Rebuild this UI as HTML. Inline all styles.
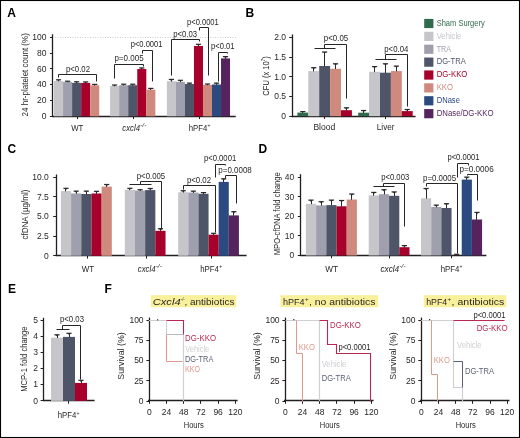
<!DOCTYPE html><html><head><meta charset="utf-8"><title>Figure</title>
<style>html,body{margin:0;padding:0;background:#fff;}svg{display:block;will-change:transform;}</style></head><body>
<svg width="520" height="438" viewBox="0 0 520 438" font-family="'Liberation Sans', sans-serif" fill="#231f20">
<rect x="0" y="0" width="520" height="438" fill="#ffffff"/>
<text x="7.3" y="17.3" font-size="12" fill="#000" font-weight="bold">A</text>
<text x="245.6" y="17.3" font-size="12" fill="#000" font-weight="bold">B</text>
<text x="7.5" y="153.4" font-size="12" fill="#000" font-weight="bold">C</text>
<text x="258.6" y="153.3" font-size="12" fill="#000" font-weight="bold">D</text>
<text x="8" y="293.1" font-size="12" fill="#000" font-weight="bold">E</text>
<text x="104.6" y="293.1" font-size="12" fill="#000" font-weight="bold">F</text>
<line x1="55" y1="37.5" x2="236" y2="37.5" stroke="#b8b8b8" stroke-width="0.8" stroke-dasharray="0.9 1.6"/>
<line x1="52.5" y1="34.3" x2="52.5" y2="117.1" stroke="#231f20" stroke-width="1.3" />
<line x1="49.9" y1="116.5" x2="52.9" y2="116.5" stroke="#231f20" stroke-width="1" />
<text x="46.4" y="119" font-size="8.5" text-anchor="end">0</text>
<line x1="49.9" y1="100.5" x2="52.9" y2="100.5" stroke="#231f20" stroke-width="1" />
<text x="46.4" y="103.2" font-size="8.5" text-anchor="end">20</text>
<line x1="49.9" y1="84.5" x2="52.9" y2="84.5" stroke="#231f20" stroke-width="1" />
<text x="46.4" y="87.4" font-size="8.5" text-anchor="end">40</text>
<line x1="49.9" y1="68.5" x2="52.9" y2="68.5" stroke="#231f20" stroke-width="1" />
<text x="46.4" y="71.6" font-size="8.5" text-anchor="end">60</text>
<line x1="49.9" y1="53.5" x2="52.9" y2="53.5" stroke="#231f20" stroke-width="1" />
<text x="46.4" y="55.8" font-size="8.5" text-anchor="end">80</text>
<line x1="49.9" y1="37.5" x2="52.9" y2="37.5" stroke="#231f20" stroke-width="1" />
<text x="46.4" y="40" font-size="8.5" text-anchor="end">100</text>
<line x1="52.4" y1="116.5" x2="235.7" y2="116.5" stroke="#231f20" stroke-width="1.3" />
<line x1="77.5" y1="116.3" x2="77.5" y2="119.1" stroke="#231f20" stroke-width="1" />
<line x1="133.5" y1="116.3" x2="133.5" y2="119.1" stroke="#231f20" stroke-width="1" />
<line x1="199.5" y1="116.3" x2="199.5" y2="119.1" stroke="#231f20" stroke-width="1" />
<rect x="54" y="81" width="9.05" height="35.3" fill="#c6c5ca"/>
<rect x="63.05" y="81.9" width="9.05" height="34.4" fill="#a09fad"/>
<rect x="72.1" y="82.9" width="9.05" height="33.4" fill="#4e5568"/>
<rect x="81.15" y="82.9" width="9.05" height="33.4" fill="#a6002b"/>
<rect x="90.2" y="85.3" width="9.05" height="31" fill="#cf8a7d"/>
<line x1="58.5" y1="81.3" x2="58.5" y2="79.8" stroke="#2a2a2a" stroke-width="1" />
<line x1="55.92" y1="79.8" x2="61.12" y2="79.8" stroke="#2a2a2a" stroke-width="1.2" />
<path d="M56.92 79.8L60.12 79.8L58.52 81Z" fill="#2a2a2a"/>
<line x1="67.5" y1="82.2" x2="67.5" y2="81.2" stroke="#2a2a2a" stroke-width="1" />
<line x1="64.98" y1="81.2" x2="70.17" y2="81.2" stroke="#2a2a2a" stroke-width="1.2" />
<path d="M65.98 81.2L69.17 81.2L67.58 81.9Z" fill="#2a2a2a"/>
<line x1="76.5" y1="83.2" x2="76.5" y2="81.8" stroke="#2a2a2a" stroke-width="1" />
<line x1="74.03" y1="81.8" x2="79.22" y2="81.8" stroke="#2a2a2a" stroke-width="1.2" />
<path d="M75.03 81.8L78.22 81.8L76.62 82.9Z" fill="#2a2a2a"/>
<line x1="85.5" y1="83.2" x2="85.5" y2="81.9" stroke="#2a2a2a" stroke-width="1" />
<line x1="83.08" y1="81.9" x2="88.28" y2="81.9" stroke="#2a2a2a" stroke-width="1.2" />
<path d="M84.08 81.9L87.28 81.9L85.68 82.9Z" fill="#2a2a2a"/>
<line x1="94.5" y1="85.6" x2="94.5" y2="84.4" stroke="#2a2a2a" stroke-width="1" />
<line x1="92.13" y1="84.4" x2="97.33" y2="84.4" stroke="#2a2a2a" stroke-width="1.2" />
<path d="M93.13 84.4L96.33 84.4L94.73 85.3Z" fill="#2a2a2a"/>
<rect x="110.1" y="86" width="9.05" height="30.3" fill="#c6c5ca"/>
<rect x="119.15" y="85.2" width="9.05" height="31.1" fill="#a09fad"/>
<rect x="128.2" y="85.2" width="9.05" height="31.1" fill="#4e5568"/>
<rect x="137.25" y="69" width="9.05" height="47.3" fill="#a6002b"/>
<rect x="146.3" y="89.6" width="9.05" height="26.7" fill="#cf8a7d"/>
<line x1="114.5" y1="86.3" x2="114.5" y2="85" stroke="#2a2a2a" stroke-width="1" />
<line x1="112.03" y1="85" x2="117.22" y2="85" stroke="#2a2a2a" stroke-width="1.2" />
<path d="M113.03 85L116.22 85L114.62 86Z" fill="#2a2a2a"/>
<line x1="123.5" y1="85.5" x2="123.5" y2="84.2" stroke="#2a2a2a" stroke-width="1" />
<line x1="121.08" y1="84.2" x2="126.27" y2="84.2" stroke="#2a2a2a" stroke-width="1.2" />
<path d="M122.08 84.2L125.27 84.2L123.67 85.2Z" fill="#2a2a2a"/>
<line x1="132.5" y1="85.5" x2="132.5" y2="84.2" stroke="#2a2a2a" stroke-width="1" />
<line x1="130.12" y1="84.2" x2="135.32" y2="84.2" stroke="#2a2a2a" stroke-width="1.2" />
<path d="M131.12 84.2L134.32 84.2L132.72 85.2Z" fill="#2a2a2a"/>
<line x1="141.5" y1="69.3" x2="141.5" y2="67.9" stroke="#2a2a2a" stroke-width="1" />
<line x1="139.18" y1="67.9" x2="144.38" y2="67.9" stroke="#2a2a2a" stroke-width="1.2" />
<path d="M140.18 67.9L143.38 67.9L141.78 69Z" fill="#2a2a2a"/>
<line x1="150.5" y1="89.9" x2="150.5" y2="88.4" stroke="#2a2a2a" stroke-width="1" />
<line x1="148.23" y1="88.4" x2="153.43" y2="88.4" stroke="#2a2a2a" stroke-width="1.2" />
<path d="M149.23 88.4L152.43 88.4L150.83 89.6Z" fill="#2a2a2a"/>
<rect x="166.9" y="81.2" width="9.02" height="35.1" fill="#c6c5ca"/>
<rect x="175.92" y="81.8" width="9.02" height="34.5" fill="#a09fad"/>
<rect x="184.94" y="84" width="9.02" height="32.3" fill="#4e5568"/>
<rect x="193.96" y="46" width="9.02" height="70.3" fill="#a6002b"/>
<rect x="202.98" y="84.9" width="9.02" height="31.4" fill="#cf8a7d"/>
<rect x="212" y="84.5" width="9.02" height="31.8" fill="#2b4a80"/>
<rect x="221.02" y="58.4" width="9.02" height="57.9" fill="#55245f"/>
<line x1="171.5" y1="81.5" x2="171.5" y2="79.4" stroke="#2a2a2a" stroke-width="1" />
<line x1="168.81" y1="79.4" x2="174.01" y2="79.4" stroke="#2a2a2a" stroke-width="1.2" />
<path d="M169.81 79.4L173.01 79.4L171.41 81.2Z" fill="#2a2a2a"/>
<line x1="180.5" y1="82.1" x2="180.5" y2="80.3" stroke="#2a2a2a" stroke-width="1" />
<line x1="177.83" y1="80.3" x2="183.03" y2="80.3" stroke="#2a2a2a" stroke-width="1.2" />
<path d="M178.83 80.3L182.03 80.3L180.43 81.8Z" fill="#2a2a2a"/>
<line x1="189.5" y1="84.3" x2="189.5" y2="83.1" stroke="#2a2a2a" stroke-width="1" />
<line x1="186.85" y1="83.1" x2="192.05" y2="83.1" stroke="#2a2a2a" stroke-width="1.2" />
<path d="M187.85 83.1L191.05 83.1L189.45 84Z" fill="#2a2a2a"/>
<line x1="198.5" y1="46.3" x2="198.5" y2="44.3" stroke="#2a2a2a" stroke-width="1" />
<line x1="195.87" y1="44.3" x2="201.07" y2="44.3" stroke="#2a2a2a" stroke-width="1.2" />
<path d="M196.87 44.3L200.07 44.3L198.47 46Z" fill="#2a2a2a"/>
<line x1="207.5" y1="85.2" x2="207.5" y2="84" stroke="#2a2a2a" stroke-width="1" />
<line x1="204.89" y1="84" x2="210.09" y2="84" stroke="#2a2a2a" stroke-width="1.2" />
<path d="M205.89 84L209.09 84L207.49 84.9Z" fill="#2a2a2a"/>
<line x1="216.5" y1="84.8" x2="216.5" y2="83.1" stroke="#2a2a2a" stroke-width="1" />
<line x1="213.91" y1="83.1" x2="219.11" y2="83.1" stroke="#2a2a2a" stroke-width="1.2" />
<path d="M214.91 83.1L218.11 83.1L216.51 84.5Z" fill="#2a2a2a"/>
<line x1="225.5" y1="58.7" x2="225.5" y2="56.6" stroke="#2a2a2a" stroke-width="1" />
<line x1="222.93" y1="56.6" x2="228.13" y2="56.6" stroke="#2a2a2a" stroke-width="1.2" />
<path d="M223.93 56.6L227.13 56.6L225.53 58.4Z" fill="#2a2a2a"/>
<path d="M58.5 77.5V74.5H96.5V81.5" stroke="#262626" stroke-width="1" fill="none" />
<text x="66" y="72" font-size="8.6" textLength="24" lengthAdjust="spacingAndGlyphs">p&lt;0.02</text>
<path d="M114.5 78.5V64.5H143.5V66.5" stroke="#262626" stroke-width="1" fill="none" />
<text x="114.4" y="61.3" font-size="8.6" textLength="29.2" lengthAdjust="spacingAndGlyphs">p=0.005</text>
<path d="M142.5 53.5V50.5H152.5V81.5" stroke="#262626" stroke-width="1" fill="none" />
<text x="130.7" y="47.4" font-size="8.6" textLength="31.8" lengthAdjust="spacingAndGlyphs">p&lt;0.0001</text>
<path d="M171.5 75.5V39.5H199.5V41.5" stroke="#262626" stroke-width="1" fill="none" />
<text x="173.2" y="36.5" font-size="8.6" textLength="23.9" lengthAdjust="spacingAndGlyphs">p&lt;0.03</text>
<path d="M199.5 30.5V27.5H208.5V75.5" stroke="#262626" stroke-width="1" fill="none" />
<text x="187" y="24.7" font-size="8.6" textLength="31.8" lengthAdjust="spacingAndGlyphs">p&lt;0.0001</text>
<path d="M218.5 81.5V52.5H227.5V53.5" stroke="#262626" stroke-width="1" fill="none" />
<text x="211.1" y="48.6" font-size="8.6" textLength="23.4" lengthAdjust="spacingAndGlyphs">p&lt;0.01</text>
<text x="71.2" y="131" font-size="8.8" textLength="12.2" lengthAdjust="spacingAndGlyphs">WT</text>
<text x="122.3" y="131" font-size="8.8" textLength="17.7" lengthAdjust="spacingAndGlyphs" font-style="italic">cxcl4</text>
<text x="140.2" y="127" font-size="5" textLength="6.2" lengthAdjust="spacingAndGlyphs" font-style="italic">-/-</text>
<text x="188.8" y="131" font-size="8.8" textLength="18.6" lengthAdjust="spacingAndGlyphs">hPF4</text>
<text x="207.6" y="127.2" font-size="5.5" textLength="3" lengthAdjust="spacingAndGlyphs">+</text>
<text transform="translate(28.3 74.8) rotate(-90)" x="0" y="0" font-size="9.5" text-anchor="middle" textLength="83.2" lengthAdjust="spacingAndGlyphs" fill="#231f20">24 hr-platelet count (%)</text>
<line x1="292.5" y1="34.5" x2="292.5" y2="117.1" stroke="#231f20" stroke-width="1.3" />
<line x1="289.2" y1="116.5" x2="292.2" y2="116.5" stroke="#231f20" stroke-width="1" />
<text x="286.1" y="118.9" font-size="8.5" text-anchor="end">0</text>
<line x1="289.2" y1="96.5" x2="292.2" y2="96.5" stroke="#231f20" stroke-width="1" />
<text x="286.1" y="99.2" font-size="8.5" text-anchor="end">0.5</text>
<line x1="289.2" y1="76.5" x2="292.2" y2="76.5" stroke="#231f20" stroke-width="1" />
<text x="286.1" y="79.5" font-size="8.5" text-anchor="end">1.0</text>
<line x1="289.2" y1="57.5" x2="292.2" y2="57.5" stroke="#231f20" stroke-width="1" />
<text x="286.1" y="59.8" font-size="8.5" text-anchor="end">1.5</text>
<line x1="289.2" y1="37.5" x2="292.2" y2="37.5" stroke="#231f20" stroke-width="1" />
<text x="286.1" y="40.1" font-size="8.5" text-anchor="end">2.0</text>
<line x1="291.7" y1="116.5" x2="415.6" y2="116.5" stroke="#231f20" stroke-width="1.3" />
<line x1="324.5" y1="116.2" x2="324.5" y2="119" stroke="#231f20" stroke-width="1" />
<line x1="385.5" y1="116.2" x2="385.5" y2="119" stroke="#231f20" stroke-width="1" />
<rect x="297.4" y="112.6" width="10.9" height="3.6" fill="#2f6a4b"/>
<rect x="308.3" y="71.1" width="10.9" height="45.1" fill="#c6c5ca"/>
<rect x="319.2" y="66" width="10.9" height="50.2" fill="#4e5568"/>
<rect x="330.1" y="68.8" width="10.9" height="47.4" fill="#cf8a7d"/>
<rect x="341" y="110.2" width="10.9" height="6" fill="#a6002b"/>
<line x1="302.5" y1="112.9" x2="302.5" y2="111.6" stroke="#2a2a2a" stroke-width="1" />
<line x1="300.25" y1="111.6" x2="305.45" y2="111.6" stroke="#2a2a2a" stroke-width="1.2" />
<path d="M301.25 111.6L304.45 111.6L302.85 112.6Z" fill="#2a2a2a"/>
<line x1="313.5" y1="71.4" x2="313.5" y2="67.7" stroke="#2a2a2a" stroke-width="1" />
<line x1="311.15" y1="67.7" x2="316.35" y2="67.7" stroke="#2a2a2a" stroke-width="1.2" />
<path d="M312.15 67.7L315.35 67.7L313.75 69.5Z" fill="#2a2a2a"/>
<line x1="324.5" y1="66.3" x2="324.5" y2="52" stroke="#2a2a2a" stroke-width="1" />
<line x1="322.05" y1="52" x2="327.25" y2="52" stroke="#2a2a2a" stroke-width="1.2" />
<path d="M323.05 52L326.25 52L324.65 53.8Z" fill="#2a2a2a"/>
<line x1="335.5" y1="69.1" x2="335.5" y2="63.8" stroke="#2a2a2a" stroke-width="1" />
<line x1="332.95" y1="63.8" x2="338.15" y2="63.8" stroke="#2a2a2a" stroke-width="1.2" />
<path d="M333.95 63.8L337.15 63.8L335.55 65.6Z" fill="#2a2a2a"/>
<line x1="346.5" y1="110.5" x2="346.5" y2="107.8" stroke="#2a2a2a" stroke-width="1" />
<line x1="343.85" y1="107.8" x2="349.05" y2="107.8" stroke="#2a2a2a" stroke-width="1.2" />
<path d="M344.85 107.8L348.05 107.8L346.45 109.6Z" fill="#2a2a2a"/>
<rect x="358.2" y="112.7" width="10.9" height="3.5" fill="#2f6a4b"/>
<rect x="369.1" y="71.8" width="10.9" height="44.4" fill="#c6c5ca"/>
<rect x="380" y="72.7" width="10.9" height="43.5" fill="#4e5568"/>
<rect x="390.9" y="71.1" width="10.9" height="45.1" fill="#cf8a7d"/>
<rect x="401.8" y="111.1" width="10.9" height="5.1" fill="#a6002b"/>
<line x1="363.5" y1="113" x2="363.5" y2="110.5" stroke="#2a2a2a" stroke-width="1" />
<line x1="361.05" y1="110.5" x2="366.25" y2="110.5" stroke="#2a2a2a" stroke-width="1.2" />
<path d="M362.05 110.5L365.25 110.5L363.65 112.3Z" fill="#2a2a2a"/>
<line x1="374.5" y1="72.1" x2="374.5" y2="66.6" stroke="#2a2a2a" stroke-width="1" />
<line x1="371.95" y1="66.6" x2="377.15" y2="66.6" stroke="#2a2a2a" stroke-width="1.2" />
<path d="M372.95 66.6L376.15 66.6L374.55 68.4Z" fill="#2a2a2a"/>
<line x1="385.5" y1="73" x2="385.5" y2="63.8" stroke="#2a2a2a" stroke-width="1" />
<line x1="382.85" y1="63.8" x2="388.05" y2="63.8" stroke="#2a2a2a" stroke-width="1.2" />
<path d="M383.85 63.8L387.05 63.8L385.45 65.6Z" fill="#2a2a2a"/>
<line x1="396.5" y1="71.4" x2="396.5" y2="66.1" stroke="#2a2a2a" stroke-width="1" />
<line x1="393.75" y1="66.1" x2="398.95" y2="66.1" stroke="#2a2a2a" stroke-width="1.2" />
<path d="M394.75 66.1L397.95 66.1L396.35 67.9Z" fill="#2a2a2a"/>
<line x1="407.5" y1="111.4" x2="407.5" y2="109.5" stroke="#2a2a2a" stroke-width="1" />
<line x1="404.65" y1="109.5" x2="409.85" y2="109.5" stroke="#2a2a2a" stroke-width="1.2" />
<path d="M405.65 109.5L408.85 109.5L407.25 111.1Z" fill="#2a2a2a"/>
<path d="M314.5 48.5H335.5M324.5 48.5V44.5H346.5V98.5" stroke="#262626" stroke-width="1" fill="none" />
<text x="323.8" y="41.2" font-size="8.6" textLength="24.4" lengthAdjust="spacingAndGlyphs">p&lt;0.05</text>
<path d="M375.5 59.5H396.5M385.5 59.5V54.5H407.5V106.5" stroke="#262626" stroke-width="1" fill="none" />
<text x="384.3" y="51.7" font-size="8.6" textLength="24" lengthAdjust="spacingAndGlyphs">p&lt;0.04</text>
<text x="313.4" y="129.6" font-size="8.3" textLength="21.9" lengthAdjust="spacingAndGlyphs">Blood</text>
<text x="376.8" y="129.6" font-size="8.3" textLength="17.8" lengthAdjust="spacingAndGlyphs">Liver</text>
<text transform="translate(268.8 76.0) rotate(-90)" font-size="9.5" text-anchor="middle" textLength="39.4" lengthAdjust="spacingAndGlyphs"><tspan>CFU (x 10</tspan><tspan font-size="5.5" dy="-3.6">7</tspan><tspan dy="3.6">)</tspan></text>
<rect x="424.2" y="18.9" width="9.2" height="9.2" fill="#2f6a4b"/>
<text x="436.7" y="25.9" font-size="8.5" fill="#2f6a4b" textLength="48" lengthAdjust="spacingAndGlyphs">Sham Surgery</text>
<rect x="424.2" y="31.78" width="9.2" height="9.2" fill="#c6c5ca"/>
<text x="436.7" y="38.75" font-size="8.5" fill="#c6c5ca" textLength="24.7" lengthAdjust="spacingAndGlyphs">Vehicle</text>
<rect x="424.2" y="44.66" width="9.2" height="9.2" fill="#a09fad"/>
<text x="436.7" y="51.6" font-size="8.5" fill="#a09fad" textLength="14.3" lengthAdjust="spacingAndGlyphs">TRA</text>
<rect x="424.2" y="57.54" width="9.2" height="9.2" fill="#4e5568"/>
<text x="436.7" y="64.45" font-size="8.5" fill="#4e5568" textLength="29" lengthAdjust="spacingAndGlyphs">DG-TRA</text>
<rect x="424.2" y="70.42" width="9.2" height="9.2" fill="#a6002b"/>
<text x="436.7" y="77.3" font-size="8.5" fill="#a6002b" textLength="30.7" lengthAdjust="spacingAndGlyphs">DG-KKO</text>
<rect x="424.2" y="83.3" width="9.2" height="9.2" fill="#cf8a7d"/>
<text x="436.7" y="90.15" font-size="8.5" fill="#cf8a7d" textLength="16.2" lengthAdjust="spacingAndGlyphs">KKO</text>
<rect x="424.2" y="96.18" width="9.2" height="9.2" fill="#2b4a80"/>
<text x="436.7" y="103" font-size="8.5" fill="#2b4a80" textLength="23.2" lengthAdjust="spacingAndGlyphs">DNase</text>
<rect x="424.2" y="109.06" width="9.2" height="9.2" fill="#55245f"/>
<text x="436.7" y="115.85" font-size="8.5" fill="#55245f" textLength="56.8" lengthAdjust="spacingAndGlyphs">DNase/DG-KKO</text>
<line x1="56.5" y1="174.5" x2="56.5" y2="256.1" stroke="#231f20" stroke-width="1.3" />
<line x1="53.2" y1="255.5" x2="56.2" y2="255.5" stroke="#231f20" stroke-width="1" />
<text x="48.8" y="258.5" font-size="8.5" text-anchor="end">0</text>
<line x1="53.2" y1="236.5" x2="56.2" y2="236.5" stroke="#231f20" stroke-width="1" />
<text x="48.8" y="238.85" font-size="8.5" text-anchor="end">2.5</text>
<line x1="53.2" y1="216.5" x2="56.2" y2="216.5" stroke="#231f20" stroke-width="1" />
<text x="48.8" y="219.2" font-size="8.5" text-anchor="end">5.0</text>
<line x1="53.2" y1="196.5" x2="56.2" y2="196.5" stroke="#231f20" stroke-width="1" />
<text x="48.8" y="199.55" font-size="8.5" text-anchor="end">7.5</text>
<line x1="53.2" y1="177.5" x2="56.2" y2="177.5" stroke="#231f20" stroke-width="1" />
<text x="48.8" y="179.9" font-size="8.5" text-anchor="end">10.0</text>
<line x1="55.7" y1="255.5" x2="246.6" y2="255.5" stroke="#231f20" stroke-width="1.3" />
<line x1="87.5" y1="255.8" x2="87.5" y2="258.6" stroke="#231f20" stroke-width="1" />
<line x1="146.5" y1="255.8" x2="146.5" y2="258.6" stroke="#231f20" stroke-width="1" />
<line x1="211.5" y1="255.8" x2="211.5" y2="258.6" stroke="#231f20" stroke-width="1" />
<rect x="60.9" y="191.1" width="10.18" height="64.7" fill="#c6c5ca"/>
<rect x="71.08" y="193.5" width="10.18" height="62.3" fill="#a09fad"/>
<rect x="81.26" y="194" width="10.18" height="61.8" fill="#4e5568"/>
<rect x="91.44" y="193.5" width="10.18" height="62.3" fill="#a6002b"/>
<rect x="101.62" y="186.6" width="10.18" height="69.2" fill="#cf8a7d"/>
<line x1="65.5" y1="191.4" x2="65.5" y2="188.3" stroke="#2a2a2a" stroke-width="1" />
<line x1="63.39" y1="188.3" x2="68.59" y2="188.3" stroke="#2a2a2a" stroke-width="1.2" />
<path d="M64.39 188.3L67.59 188.3L65.99 190.1Z" fill="#2a2a2a"/>
<line x1="76.5" y1="193.8" x2="76.5" y2="191.1" stroke="#2a2a2a" stroke-width="1" />
<line x1="73.57" y1="191.1" x2="78.77" y2="191.1" stroke="#2a2a2a" stroke-width="1.2" />
<path d="M74.57 191.1L77.77 191.1L76.17 192.9Z" fill="#2a2a2a"/>
<line x1="86.5" y1="194.3" x2="86.5" y2="191.1" stroke="#2a2a2a" stroke-width="1" />
<line x1="83.75" y1="191.1" x2="88.95" y2="191.1" stroke="#2a2a2a" stroke-width="1.2" />
<path d="M84.75 191.1L87.95 191.1L86.35 192.9Z" fill="#2a2a2a"/>
<line x1="96.5" y1="193.8" x2="96.5" y2="191.3" stroke="#2a2a2a" stroke-width="1" />
<line x1="93.93" y1="191.3" x2="99.13" y2="191.3" stroke="#2a2a2a" stroke-width="1.2" />
<path d="M94.93 191.3L98.13 191.3L96.53 193.1Z" fill="#2a2a2a"/>
<line x1="106.5" y1="186.9" x2="106.5" y2="184.5" stroke="#2a2a2a" stroke-width="1" />
<line x1="104.11" y1="184.5" x2="109.31" y2="184.5" stroke="#2a2a2a" stroke-width="1.2" />
<path d="M105.11 184.5L108.31 184.5L106.71 186.3Z" fill="#2a2a2a"/>
<rect x="124.8" y="189.8" width="10.18" height="66" fill="#c6c5ca"/>
<rect x="134.98" y="190.6" width="10.18" height="65.2" fill="#a09fad"/>
<rect x="145.16" y="190.1" width="10.18" height="65.7" fill="#4e5568"/>
<rect x="155.34" y="230.8" width="10.18" height="25" fill="#a6002b"/>
<line x1="129.5" y1="190.1" x2="129.5" y2="188.3" stroke="#2a2a2a" stroke-width="1" />
<line x1="127.29" y1="188.3" x2="132.49" y2="188.3" stroke="#2a2a2a" stroke-width="1.2" />
<path d="M128.29 188.3L131.49 188.3L129.89 189.8Z" fill="#2a2a2a"/>
<line x1="140.5" y1="190.9" x2="140.5" y2="189.7" stroke="#2a2a2a" stroke-width="1" />
<line x1="137.47" y1="189.7" x2="142.67" y2="189.7" stroke="#2a2a2a" stroke-width="1.2" />
<path d="M138.47 189.7L141.67 189.7L140.07 190.6Z" fill="#2a2a2a"/>
<line x1="150.5" y1="190.4" x2="150.5" y2="188.5" stroke="#2a2a2a" stroke-width="1" />
<line x1="147.65" y1="188.5" x2="152.85" y2="188.5" stroke="#2a2a2a" stroke-width="1.2" />
<path d="M148.65 188.5L151.85 188.5L150.25 190.1Z" fill="#2a2a2a"/>
<line x1="160.5" y1="231.1" x2="160.5" y2="228.7" stroke="#2a2a2a" stroke-width="1" />
<line x1="157.83" y1="228.7" x2="163.03" y2="228.7" stroke="#2a2a2a" stroke-width="1.2" />
<path d="M158.83 228.7L162.03 228.7L160.43 230.5Z" fill="#2a2a2a"/>
<rect x="178.2" y="192.2" width="10.12" height="63.6" fill="#c6c5ca"/>
<rect x="188.32" y="192.6" width="10.12" height="63.2" fill="#a09fad"/>
<rect x="198.44" y="193.8" width="10.12" height="62" fill="#4e5568"/>
<rect x="208.56" y="234.7" width="10.12" height="21.1" fill="#a6002b"/>
<rect x="218.68" y="181.9" width="10.12" height="73.9" fill="#2b4a80"/>
<rect x="228.8" y="215.4" width="10.12" height="40.4" fill="#55245f"/>
<line x1="183.5" y1="192.5" x2="183.5" y2="190.7" stroke="#2a2a2a" stroke-width="1" />
<line x1="180.66" y1="190.7" x2="185.86" y2="190.7" stroke="#2a2a2a" stroke-width="1.2" />
<path d="M181.66 190.7L184.86 190.7L183.26 192.2Z" fill="#2a2a2a"/>
<line x1="193.5" y1="192.9" x2="193.5" y2="191.1" stroke="#2a2a2a" stroke-width="1" />
<line x1="190.78" y1="191.1" x2="195.98" y2="191.1" stroke="#2a2a2a" stroke-width="1.2" />
<path d="M191.78 191.1L194.98 191.1L193.38 192.6Z" fill="#2a2a2a"/>
<line x1="203.5" y1="194.1" x2="203.5" y2="192.6" stroke="#2a2a2a" stroke-width="1" />
<line x1="200.9" y1="192.6" x2="206.1" y2="192.6" stroke="#2a2a2a" stroke-width="1.2" />
<path d="M201.9 192.6L205.1 192.6L203.5 193.8Z" fill="#2a2a2a"/>
<line x1="213.5" y1="235" x2="213.5" y2="233.3" stroke="#2a2a2a" stroke-width="1" />
<line x1="211.02" y1="233.3" x2="216.22" y2="233.3" stroke="#2a2a2a" stroke-width="1.2" />
<path d="M212.02 233.3L215.22 233.3L213.62 234.7Z" fill="#2a2a2a"/>
<line x1="223.5" y1="182.2" x2="223.5" y2="178.8" stroke="#2a2a2a" stroke-width="1" />
<line x1="221.14" y1="178.8" x2="226.34" y2="178.8" stroke="#2a2a2a" stroke-width="1.2" />
<path d="M222.14 178.8L225.34 178.8L223.74 180.6Z" fill="#2a2a2a"/>
<line x1="233.5" y1="215.7" x2="233.5" y2="211.7" stroke="#2a2a2a" stroke-width="1" />
<line x1="231.26" y1="211.7" x2="236.46" y2="211.7" stroke="#2a2a2a" stroke-width="1.2" />
<path d="M232.26 211.7L235.46 211.7L233.86 213.5Z" fill="#2a2a2a"/>
<path d="M129.5 184.5H151.5M140.5 184.5V181.5H161.5V229.5" stroke="#262626" stroke-width="1" fill="none" />
<text x="136.8" y="178.6" font-size="8.6" textLength="28.3" lengthAdjust="spacingAndGlyphs">p&lt;0.005</text>
<path d="M183.5 189.5V185.5H215.5V232.5" stroke="#262626" stroke-width="1" fill="none" />
<text x="186.9" y="182.5" font-size="8.6" textLength="24.2" lengthAdjust="spacingAndGlyphs">p&lt;0.02</text>
<path d="M215.5 177.5V164.5H225.5V165.5" stroke="#262626" stroke-width="1" fill="none" />
<text x="203.9" y="160.7" font-size="8.6" textLength="32.3" lengthAdjust="spacingAndGlyphs">p&lt;0.0001</text>
<path d="M225.5 178.5V175.5H236.5V203.5" stroke="#262626" stroke-width="1" fill="none" />
<text x="218.3" y="172.6" font-size="8.6" textLength="33.5" lengthAdjust="spacingAndGlyphs">p=0.0008</text>
<text x="81.8" y="272.1" font-size="8.8" textLength="12.4" lengthAdjust="spacingAndGlyphs">WT</text>
<text x="137.8" y="272.1" font-size="8.8" textLength="17.7" lengthAdjust="spacingAndGlyphs" font-style="italic">cxcl4</text>
<text x="155.7" y="268.1" font-size="5" textLength="6.2" lengthAdjust="spacingAndGlyphs" font-style="italic">-/-</text>
<text x="200.2" y="272.2" font-size="8.8" textLength="18.8" lengthAdjust="spacingAndGlyphs">hPF4</text>
<text x="219.2" y="268.4" font-size="5.5" textLength="3" lengthAdjust="spacingAndGlyphs">+</text>
<text transform="translate(27.8 214.6) rotate(-90)" font-size="9.5" text-anchor="middle" textLength="50" lengthAdjust="spacingAndGlyphs">cfDNA (µg/ml)</text>
<line x1="300.5" y1="174.2" x2="300.5" y2="256.1" stroke="#231f20" stroke-width="1.3" />
<line x1="297.8" y1="255.5" x2="300.8" y2="255.5" stroke="#231f20" stroke-width="1" />
<text x="294.3" y="258.2" font-size="8.5" text-anchor="end">0</text>
<line x1="297.8" y1="235.5" x2="300.8" y2="235.5" stroke="#231f20" stroke-width="1" />
<text x="294.3" y="238.65" font-size="8.5" text-anchor="end">10</text>
<line x1="297.8" y1="216.5" x2="300.8" y2="216.5" stroke="#231f20" stroke-width="1" />
<text x="294.3" y="219.1" font-size="8.5" text-anchor="end">20</text>
<line x1="297.8" y1="196.5" x2="300.8" y2="196.5" stroke="#231f20" stroke-width="1" />
<text x="294.3" y="199.55" font-size="8.5" text-anchor="end">30</text>
<line x1="297.8" y1="177.5" x2="300.8" y2="177.5" stroke="#231f20" stroke-width="1" />
<text x="294.3" y="180" font-size="8.5" text-anchor="end">40</text>
<line x1="300.3" y1="255.5" x2="486.4" y2="255.5" stroke="#231f20" stroke-width="1.3" />
<line x1="331.5" y1="255.5" x2="331.5" y2="258.3" stroke="#231f20" stroke-width="1" />
<line x1="389.5" y1="255.5" x2="389.5" y2="258.3" stroke="#231f20" stroke-width="1" />
<line x1="451.5" y1="255.5" x2="451.5" y2="258.3" stroke="#231f20" stroke-width="1" />
<rect x="305.9" y="203.8" width="10.2" height="51.7" fill="#c6c5ca"/>
<rect x="316.1" y="205.4" width="10.2" height="50.1" fill="#a09fad"/>
<rect x="326.3" y="205.1" width="10.2" height="50.4" fill="#4e5568"/>
<rect x="336.5" y="206.3" width="10.2" height="49.2" fill="#a6002b"/>
<rect x="346.7" y="199.5" width="10.2" height="56" fill="#cf8a7d"/>
<line x1="311.5" y1="204.1" x2="311.5" y2="200.1" stroke="#2a2a2a" stroke-width="1" />
<line x1="308.4" y1="200.1" x2="313.6" y2="200.1" stroke="#2a2a2a" stroke-width="1.2" />
<path d="M309.4 200.1L312.6 200.1L311 201.9Z" fill="#2a2a2a"/>
<line x1="321.5" y1="205.7" x2="321.5" y2="201.7" stroke="#2a2a2a" stroke-width="1" />
<line x1="318.6" y1="201.7" x2="323.8" y2="201.7" stroke="#2a2a2a" stroke-width="1.2" />
<path d="M319.6 201.7L322.8 201.7L321.2 203.5Z" fill="#2a2a2a"/>
<line x1="331.5" y1="205.4" x2="331.5" y2="200.1" stroke="#2a2a2a" stroke-width="1" />
<line x1="328.8" y1="200.1" x2="334" y2="200.1" stroke="#2a2a2a" stroke-width="1.2" />
<path d="M329.8 200.1L333 200.1L331.4 201.9Z" fill="#2a2a2a"/>
<line x1="341.5" y1="206.6" x2="341.5" y2="200.5" stroke="#2a2a2a" stroke-width="1" />
<line x1="339" y1="200.5" x2="344.2" y2="200.5" stroke="#2a2a2a" stroke-width="1.2" />
<path d="M340 200.5L343.2 200.5L341.6 202.3Z" fill="#2a2a2a"/>
<line x1="351.5" y1="199.8" x2="351.5" y2="194" stroke="#2a2a2a" stroke-width="1" />
<line x1="349.2" y1="194" x2="354.4" y2="194" stroke="#2a2a2a" stroke-width="1.2" />
<path d="M350.2 194L353.4 194L351.8 195.8Z" fill="#2a2a2a"/>
<rect x="368.7" y="195.4" width="10.2" height="60.1" fill="#c6c5ca"/>
<rect x="378.9" y="194.2" width="10.2" height="61.3" fill="#a09fad"/>
<rect x="389.1" y="195.8" width="10.2" height="59.7" fill="#4e5568"/>
<rect x="399.3" y="247.2" width="10.2" height="8.3" fill="#a6002b"/>
<line x1="373.5" y1="195.7" x2="373.5" y2="192.4" stroke="#2a2a2a" stroke-width="1" />
<line x1="371.2" y1="192.4" x2="376.4" y2="192.4" stroke="#2a2a2a" stroke-width="1.2" />
<path d="M372.2 192.4L375.4 192.4L373.8 194.2Z" fill="#2a2a2a"/>
<line x1="384.5" y1="194.5" x2="384.5" y2="189.7" stroke="#2a2a2a" stroke-width="1" />
<line x1="381.4" y1="189.7" x2="386.6" y2="189.7" stroke="#2a2a2a" stroke-width="1.2" />
<path d="M382.4 189.7L385.6 189.7L384 191.5Z" fill="#2a2a2a"/>
<line x1="394.5" y1="196.1" x2="394.5" y2="191.9" stroke="#2a2a2a" stroke-width="1" />
<line x1="391.6" y1="191.9" x2="396.8" y2="191.9" stroke="#2a2a2a" stroke-width="1.2" />
<path d="M392.6 191.9L395.8 191.9L394.2 193.7Z" fill="#2a2a2a"/>
<line x1="404.5" y1="247.5" x2="404.5" y2="245.6" stroke="#2a2a2a" stroke-width="1" />
<line x1="401.8" y1="245.6" x2="407" y2="245.6" stroke="#2a2a2a" stroke-width="1.2" />
<path d="M402.8 245.6L406 245.6L404.4 247.2Z" fill="#2a2a2a"/>
<rect x="421" y="198.3" width="10.18" height="57.2" fill="#c6c5ca"/>
<rect x="431.18" y="207" width="10.18" height="48.5" fill="#a09fad"/>
<rect x="441.36" y="208" width="10.18" height="47.5" fill="#4e5568"/>
<rect x="451.54" y="255.5" width="10.18" height="0" fill="#a6002b"/>
<rect x="461.72" y="179.6" width="10.18" height="75.9" fill="#2b4a80"/>
<rect x="471.9" y="219.5" width="10.18" height="36" fill="#55245f"/>
<line x1="426.5" y1="198.6" x2="426.5" y2="188.5" stroke="#2a2a2a" stroke-width="1" />
<line x1="423.49" y1="188.5" x2="428.69" y2="188.5" stroke="#2a2a2a" stroke-width="1.2" />
<path d="M424.49 188.5L427.69 188.5L426.09 190.3Z" fill="#2a2a2a"/>
<line x1="436.5" y1="207.3" x2="436.5" y2="205.1" stroke="#2a2a2a" stroke-width="1" />
<line x1="433.67" y1="205.1" x2="438.87" y2="205.1" stroke="#2a2a2a" stroke-width="1.2" />
<path d="M434.67 205.1L437.87 205.1L436.27 206.9Z" fill="#2a2a2a"/>
<line x1="446.5" y1="208.3" x2="446.5" y2="203.7" stroke="#2a2a2a" stroke-width="1" />
<line x1="443.85" y1="203.7" x2="449.05" y2="203.7" stroke="#2a2a2a" stroke-width="1.2" />
<path d="M444.85 203.7L448.05 203.7L446.45 205.5Z" fill="#2a2a2a"/>
<line x1="456.5" y1="255.8" x2="456.5" y2="254.3" stroke="#2a2a2a" stroke-width="1" />
<line x1="454.03" y1="254.3" x2="459.23" y2="254.3" stroke="#2a2a2a" stroke-width="1.2" />
<path d="M455.03 254.3L458.23 254.3L456.63 255.5Z" fill="#2a2a2a"/>
<line x1="466.5" y1="179.9" x2="466.5" y2="177.1" stroke="#2a2a2a" stroke-width="1" />
<line x1="464.21" y1="177.1" x2="469.41" y2="177.1" stroke="#2a2a2a" stroke-width="1.2" />
<path d="M465.21 177.1L468.41 177.1L466.81 178.9Z" fill="#2a2a2a"/>
<line x1="476.5" y1="219.8" x2="476.5" y2="212.4" stroke="#2a2a2a" stroke-width="1" />
<line x1="474.39" y1="212.4" x2="479.59" y2="212.4" stroke="#2a2a2a" stroke-width="1.2" />
<path d="M475.39 212.4L478.59 212.4L476.99 214.2Z" fill="#2a2a2a"/>
<path d="M373.5 186.5H394.5M383.5 186.5V183.5H404.5V226.5" stroke="#262626" stroke-width="1" fill="none" />
<text x="381.2" y="180.1" font-size="8.6" textLength="28" lengthAdjust="spacingAndGlyphs">p&lt;0.003</text>
<path d="M426.5 186.5V183.5H457.5V253.5" stroke="#262626" stroke-width="1" fill="none" />
<text x="423" y="180.8" font-size="8.6" textLength="33.1" lengthAdjust="spacingAndGlyphs">p=0.0005</text>
<path d="M457.5 177.5V163.5H468.5V165.5" stroke="#262626" stroke-width="1" fill="none" />
<text x="447.4" y="160.1" font-size="8.6" textLength="32" lengthAdjust="spacingAndGlyphs">p&lt;0.0001</text>
<path d="M467.5 175.5V174.5H477.5V200.5" stroke="#262626" stroke-width="1" fill="none" />
<text x="459.4" y="171.9" font-size="8.6" textLength="34.3" lengthAdjust="spacingAndGlyphs">p=0.0006</text>
<text x="325.2" y="272.1" font-size="8.8" textLength="12.8" lengthAdjust="spacingAndGlyphs">WT</text>
<text x="380.4" y="272.1" font-size="8.8" textLength="18.8" lengthAdjust="spacingAndGlyphs" font-style="italic">cxcl4</text>
<text x="399.4" y="268.1" font-size="5" textLength="6.2" lengthAdjust="spacingAndGlyphs" font-style="italic">-/-</text>
<text x="440.7" y="272.1" font-size="8.8" textLength="18.7" lengthAdjust="spacingAndGlyphs">hPF4</text>
<text x="459.6" y="268.3" font-size="5.5" textLength="3" lengthAdjust="spacingAndGlyphs">+</text>
<text transform="translate(279.5 213.8) rotate(-90)" x="0" y="0" font-size="9.5" text-anchor="middle" textLength="83" lengthAdjust="spacingAndGlyphs" fill="#231f20">MPO-cfDNA fold change</text>
<line x1="43.5" y1="317.8" x2="43.5" y2="401.1" stroke="#231f20" stroke-width="1.3" />
<line x1="40.6" y1="400.5" x2="43.6" y2="400.5" stroke="#231f20" stroke-width="1" />
<text x="37.9" y="403.6" font-size="8.5" text-anchor="end">0</text>
<line x1="40.6" y1="384.5" x2="43.6" y2="384.5" stroke="#231f20" stroke-width="1" />
<text x="37.9" y="387.48" font-size="8.5" text-anchor="end">1</text>
<line x1="40.6" y1="368.5" x2="43.6" y2="368.5" stroke="#231f20" stroke-width="1" />
<text x="37.9" y="371.36" font-size="8.5" text-anchor="end">2</text>
<line x1="40.6" y1="352.5" x2="43.6" y2="352.5" stroke="#231f20" stroke-width="1" />
<text x="37.9" y="355.24" font-size="8.5" text-anchor="end">3</text>
<line x1="40.6" y1="336.5" x2="43.6" y2="336.5" stroke="#231f20" stroke-width="1" />
<text x="37.9" y="339.12" font-size="8.5" text-anchor="end">4</text>
<line x1="40.6" y1="320.5" x2="43.6" y2="320.5" stroke="#231f20" stroke-width="1" />
<text x="37.9" y="323" font-size="8.5" text-anchor="end">5</text>
<line x1="43.1" y1="400.5" x2="94.6" y2="400.5" stroke="#231f20" stroke-width="1.3" />
<line x1="68.5" y1="400.9" x2="68.5" y2="403.7" stroke="#231f20" stroke-width="1" />
<rect x="51" y="337.7" width="12" height="63.2" fill="#c6c5ca"/>
<rect x="63" y="336.9" width="12" height="64" fill="#4e5568"/>
<rect x="75" y="382.9" width="12" height="18" fill="#a6002b"/>
<line x1="57.5" y1="338" x2="57.5" y2="334.8" stroke="#2a2a2a" stroke-width="1" />
<line x1="54.4" y1="334.8" x2="59.6" y2="334.8" stroke="#2a2a2a" stroke-width="1.2" />
<path d="M55.4 334.8L58.6 334.8L57 336.6Z" fill="#2a2a2a"/>
<line x1="69.5" y1="337.2" x2="69.5" y2="333.3" stroke="#2a2a2a" stroke-width="1" />
<line x1="66.4" y1="333.3" x2="71.6" y2="333.3" stroke="#2a2a2a" stroke-width="1.2" />
<path d="M67.4 333.3L70.6 333.3L69 335.1Z" fill="#2a2a2a"/>
<line x1="81.5" y1="383.2" x2="81.5" y2="380.3" stroke="#2a2a2a" stroke-width="1" />
<line x1="78.4" y1="380.3" x2="83.6" y2="380.3" stroke="#2a2a2a" stroke-width="1.2" />
<path d="M79.4 380.3L82.6 380.3L81 382.1Z" fill="#2a2a2a"/>
<path d="M56.5 329.5H69.5M62.5 329.5V325.5H80.5V379.5" stroke="#262626" stroke-width="1" fill="none" />
<text x="60" y="322.2" font-size="8.6" textLength="24" lengthAdjust="spacingAndGlyphs">p&lt;0.03</text>
<text x="57.8" y="418.3" font-size="8.8" textLength="18.6" lengthAdjust="spacingAndGlyphs">hPF4</text>
<text x="76.6" y="414.5" font-size="5.5" textLength="3" lengthAdjust="spacingAndGlyphs">+</text>
<text transform="translate(26.9 359.2) rotate(-90)" x="0" y="0" font-size="9.5" text-anchor="middle" textLength="65.3" lengthAdjust="spacingAndGlyphs" fill="#231f20">MCP-1 fold change</text>
<line x1="149.5" y1="317.6" x2="149.5" y2="401.1" stroke="#231f20" stroke-width="1.3" />
<line x1="146.4" y1="401.5" x2="149.4" y2="401.5" stroke="#231f20" stroke-width="1" />
<text x="143.6" y="403.7" font-size="8.5" text-anchor="end">0</text>
<line x1="146.4" y1="380.5" x2="149.4" y2="380.5" stroke="#231f20" stroke-width="1" />
<text x="143.6" y="383.52" font-size="8.5" text-anchor="end">25</text>
<line x1="146.4" y1="360.5" x2="149.4" y2="360.5" stroke="#231f20" stroke-width="1" />
<text x="143.6" y="363.35" font-size="8.5" text-anchor="end">50</text>
<line x1="146.4" y1="340.5" x2="149.4" y2="340.5" stroke="#231f20" stroke-width="1" />
<text x="143.6" y="343.18" font-size="8.5" text-anchor="end">75</text>
<line x1="146.4" y1="320.5" x2="149.4" y2="320.5" stroke="#231f20" stroke-width="1" />
<text x="143.6" y="323" font-size="8.5" text-anchor="end">100</text>
<line x1="147.9" y1="400.5" x2="237.6" y2="400.5" stroke="#231f20" stroke-width="1.3" />
<line x1="149.5" y1="401" x2="149.5" y2="403.8" stroke="#231f20" stroke-width="1" />
<line x1="166.5" y1="401" x2="166.5" y2="403.8" stroke="#231f20" stroke-width="1" />
<line x1="183.5" y1="401" x2="183.5" y2="403.8" stroke="#231f20" stroke-width="1" />
<line x1="200.5" y1="401" x2="200.5" y2="403.8" stroke="#231f20" stroke-width="1" />
<line x1="218.5" y1="401" x2="218.5" y2="403.8" stroke="#231f20" stroke-width="1" />
<line x1="235.5" y1="401" x2="235.5" y2="403.8" stroke="#231f20" stroke-width="1" />
<text x="149.4" y="414.5" font-size="8.5" text-anchor="middle">0</text>
<text x="166.58" y="414.5" font-size="8.5" text-anchor="middle">24</text>
<text x="183.76" y="414.5" font-size="8.5" text-anchor="middle">48</text>
<text x="200.94" y="414.5" font-size="8.5" text-anchor="middle">72</text>
<text x="218.12" y="414.5" font-size="8.5" text-anchor="middle">96</text>
<text x="235.3" y="414.5" font-size="8.5" text-anchor="middle">120</text>
<text x="193.78" y="428.4" font-size="8.5" text-anchor="middle" textLength="20.1" lengthAdjust="spacingAndGlyphs">Hours</text>
<text transform="translate(123.5 356) rotate(-90)" x="0" y="0" font-size="9.5" text-anchor="middle" textLength="47.3" lengthAdjust="spacingAndGlyphs" fill="#231f20">Survival (%)</text>
<line x1="285.5" y1="317.6" x2="285.5" y2="401.1" stroke="#231f20" stroke-width="1.3" />
<line x1="282.4" y1="401.5" x2="285.4" y2="401.5" stroke="#231f20" stroke-width="1" />
<text x="279.6" y="403.7" font-size="8.5" text-anchor="end">0</text>
<line x1="282.4" y1="380.5" x2="285.4" y2="380.5" stroke="#231f20" stroke-width="1" />
<text x="279.6" y="383.52" font-size="8.5" text-anchor="end">25</text>
<line x1="282.4" y1="360.5" x2="285.4" y2="360.5" stroke="#231f20" stroke-width="1" />
<text x="279.6" y="363.35" font-size="8.5" text-anchor="end">50</text>
<line x1="282.4" y1="340.5" x2="285.4" y2="340.5" stroke="#231f20" stroke-width="1" />
<text x="279.6" y="343.18" font-size="8.5" text-anchor="end">75</text>
<line x1="282.4" y1="320.5" x2="285.4" y2="320.5" stroke="#231f20" stroke-width="1" />
<text x="279.6" y="323" font-size="8.5" text-anchor="end">100</text>
<line x1="283.9" y1="400.5" x2="373.6" y2="400.5" stroke="#231f20" stroke-width="1.3" />
<line x1="285.5" y1="401" x2="285.5" y2="403.8" stroke="#231f20" stroke-width="1" />
<line x1="302.5" y1="401" x2="302.5" y2="403.8" stroke="#231f20" stroke-width="1" />
<line x1="319.5" y1="401" x2="319.5" y2="403.8" stroke="#231f20" stroke-width="1" />
<line x1="336.5" y1="401" x2="336.5" y2="403.8" stroke="#231f20" stroke-width="1" />
<line x1="354.5" y1="401" x2="354.5" y2="403.8" stroke="#231f20" stroke-width="1" />
<line x1="371.5" y1="401" x2="371.5" y2="403.8" stroke="#231f20" stroke-width="1" />
<text x="285.4" y="414.5" font-size="8.5" text-anchor="middle">0</text>
<text x="302.58" y="414.5" font-size="8.5" text-anchor="middle">24</text>
<text x="319.76" y="414.5" font-size="8.5" text-anchor="middle">48</text>
<text x="336.94" y="414.5" font-size="8.5" text-anchor="middle">72</text>
<text x="354.12" y="414.5" font-size="8.5" text-anchor="middle">96</text>
<text x="371.3" y="414.5" font-size="8.5" text-anchor="middle">120</text>
<text x="329.78" y="428.4" font-size="8.5" text-anchor="middle" textLength="20.1" lengthAdjust="spacingAndGlyphs">Hours</text>
<text transform="translate(259.9 356) rotate(-90)" x="0" y="0" font-size="9.5" text-anchor="middle" textLength="47.3" lengthAdjust="spacingAndGlyphs" fill="#231f20">Survival (%)</text>
<line x1="421.5" y1="317.6" x2="421.5" y2="401.1" stroke="#231f20" stroke-width="1.3" />
<line x1="418.3" y1="401.5" x2="421.3" y2="401.5" stroke="#231f20" stroke-width="1" />
<text x="415.5" y="403.7" font-size="8.5" text-anchor="end">0</text>
<line x1="418.3" y1="380.5" x2="421.3" y2="380.5" stroke="#231f20" stroke-width="1" />
<text x="415.5" y="383.52" font-size="8.5" text-anchor="end">25</text>
<line x1="418.3" y1="360.5" x2="421.3" y2="360.5" stroke="#231f20" stroke-width="1" />
<text x="415.5" y="363.35" font-size="8.5" text-anchor="end">50</text>
<line x1="418.3" y1="340.5" x2="421.3" y2="340.5" stroke="#231f20" stroke-width="1" />
<text x="415.5" y="343.18" font-size="8.5" text-anchor="end">75</text>
<line x1="418.3" y1="320.5" x2="421.3" y2="320.5" stroke="#231f20" stroke-width="1" />
<text x="415.5" y="323" font-size="8.5" text-anchor="end">100</text>
<line x1="419.8" y1="400.5" x2="509.5" y2="400.5" stroke="#231f20" stroke-width="1.3" />
<line x1="421.5" y1="401" x2="421.5" y2="403.8" stroke="#231f20" stroke-width="1" />
<line x1="438.5" y1="401" x2="438.5" y2="403.8" stroke="#231f20" stroke-width="1" />
<line x1="455.5" y1="401" x2="455.5" y2="403.8" stroke="#231f20" stroke-width="1" />
<line x1="472.5" y1="401" x2="472.5" y2="403.8" stroke="#231f20" stroke-width="1" />
<line x1="490.5" y1="401" x2="490.5" y2="403.8" stroke="#231f20" stroke-width="1" />
<line x1="507.5" y1="401" x2="507.5" y2="403.8" stroke="#231f20" stroke-width="1" />
<text x="421.3" y="414.5" font-size="8.5" text-anchor="middle">0</text>
<text x="438.48" y="414.5" font-size="8.5" text-anchor="middle">24</text>
<text x="455.66" y="414.5" font-size="8.5" text-anchor="middle">48</text>
<text x="472.84" y="414.5" font-size="8.5" text-anchor="middle">72</text>
<text x="490.02" y="414.5" font-size="8.5" text-anchor="middle">96</text>
<text x="507.2" y="414.5" font-size="8.5" text-anchor="middle">120</text>
<text x="465.68" y="428.4" font-size="8.5" text-anchor="middle" textLength="20.1" lengthAdjust="spacingAndGlyphs">Hours</text>
<text transform="translate(395.6 356) rotate(-90)" x="0" y="0" font-size="9.5" text-anchor="middle" textLength="47.3" lengthAdjust="spacingAndGlyphs" fill="#231f20">Survival (%)</text>
<line x1="148.9" y1="320.5" x2="166.2" y2="320.5" stroke="#cfcfd3" stroke-width="1" />
<line x1="166.5" y1="320.5" x2="166.5" y2="334.3" stroke="#cfcfd3" stroke-width="1" />
<line x1="166.2" y1="334.5" x2="182.9" y2="334.5" stroke="#b9b9c0" stroke-width="1" />
<line x1="183.5" y1="334.3" x2="183.5" y2="401.2" stroke="#cfcfd3" stroke-width="1.2" />
<path d="M166.5 334.5V361.5H182.5" stroke="#dd9a8c" stroke-width="1" fill="none" />
<path d="M166.5 320.5H183.5V334.5" stroke="#b92850" stroke-width="1.1" fill="none" />
<rect x="157" y="319.2" width="1.2" height="1.2" fill="#333"/>
<text x="185" y="340.9" font-size="8.4" fill="#b92850" textLength="31" lengthAdjust="spacingAndGlyphs">DG-KKO</text>
<text x="185.2" y="351.7" font-size="8.4" fill="#cfcfd3" textLength="24" lengthAdjust="spacingAndGlyphs">Vehicle</text>
<text x="185" y="362" font-size="8.4" fill="#5b6275" textLength="28.4" lengthAdjust="spacingAndGlyphs">DG-TRA</text>
<text x="185" y="371.5" font-size="8.4" fill="#dd9a8c" textLength="15" lengthAdjust="spacingAndGlyphs">KKO</text>
<rect x="150.8" y="295.2" width="85.5" height="12" fill="#f9f09c"/>
<text x="152.7" y="305" font-size="9.3" textLength="27.9" lengthAdjust="spacingAndGlyphs" font-style="italic">Cxcl4</text>
<text x="180.8" y="301.2" font-size="5" textLength="3.8" lengthAdjust="spacingAndGlyphs" font-style="italic">-/-</text>
<text x="184.4" y="305" font-size="9.3" textLength="50" lengthAdjust="spacingAndGlyphs">, antibiotics</text>
<line x1="285.6" y1="320.5" x2="319.2" y2="320.5" stroke="#cfcfd3" stroke-width="1" />
<line x1="319.5" y1="320.3" x2="319.5" y2="401.2" stroke="#cfcfd3" stroke-width="1.2" />
<path d="M296.5 320.5V353.5H302.5V401.5" stroke="#dd9a8c" stroke-width="1" fill="none" />
<path d="M319.5 320.5H327.5V344.5H336.5V353.5H370.5V401.5" stroke="#b92850" stroke-width="1.1" fill="none" />
<rect x="293.2" y="319" width="1.2" height="1.2" fill="#333"/>
<text x="330" y="328.1" font-size="8.4" fill="#b92850" textLength="30.9" lengthAdjust="spacingAndGlyphs">DG-KKO</text>
<text x="298.7" y="349.6" font-size="8.4" fill="#dd9a8c" textLength="16.2" lengthAdjust="spacingAndGlyphs">KKO</text>
<text x="338.4" y="349.7" font-size="8.6" textLength="32.1" lengthAdjust="spacingAndGlyphs">p&lt;0.0001</text>
<text x="321.7" y="367.3" font-size="8.4" fill="#cfcfd3" textLength="24.7" lengthAdjust="spacingAndGlyphs">Vehicle</text>
<text x="321.7" y="381" font-size="8.4" fill="#5b6275" textLength="29.1" lengthAdjust="spacingAndGlyphs">DG-TRA</text>
<rect x="280.5" y="295.2" width="97.7" height="12" fill="#f9f09c"/>
<text x="283" y="305" font-size="9.3" textLength="21.6" lengthAdjust="spacingAndGlyphs">hPF4</text>
<text x="305" y="301.4" font-size="5.5" textLength="3.6" lengthAdjust="spacingAndGlyphs">+</text>
<text x="309" y="305" font-size="9.3" textLength="66.5" lengthAdjust="spacingAndGlyphs">, no antibiotics</text>
<line x1="421.2" y1="320.5" x2="453.7" y2="320.5" stroke="#cfcfd3" stroke-width="1" />
<path d="M453.5 320.5V387.5H462.5V401.5" stroke="#cfcfd3" stroke-width="1.1" fill="none" />
<path d="M453.5 361.5H462.5V387.5" stroke="#5b6275" stroke-width="1" fill="none" />
<path d="M431.5 320.5V374.5H437.5V401.5" stroke="#dd9a8c" stroke-width="1" fill="none" />
<path d="M453.5 320.5H504.5" stroke="#b92850" stroke-width="1.2" fill="none" />
<rect x="429" y="319" width="1.2" height="1.2" fill="#333"/>
<text x="473.4" y="317.9" font-size="8.6" textLength="32.1" lengthAdjust="spacingAndGlyphs">p&lt;0.0001</text>
<text x="476.7" y="330.5" font-size="8.4" fill="#b92850" textLength="31" lengthAdjust="spacingAndGlyphs">DG-KKO</text>
<text x="457" y="347.7" font-size="8.4" fill="#cfcfd3" textLength="24.6" lengthAdjust="spacingAndGlyphs">Vehicle</text>
<text x="433.7" y="363.1" font-size="8.4" fill="#dd9a8c" textLength="16.2" lengthAdjust="spacingAndGlyphs">KKO</text>
<text x="465" y="373.6" font-size="8.4" fill="#5b6275" textLength="29" lengthAdjust="spacingAndGlyphs">DG-TRA</text>
<rect x="423.7" y="295.2" width="82.6" height="12" fill="#f9f09c"/>
<text x="426.2" y="305" font-size="9.3" textLength="21.1" lengthAdjust="spacingAndGlyphs">hPF4</text>
<text x="447.6" y="301.4" font-size="5.5" textLength="3.6" lengthAdjust="spacingAndGlyphs">+</text>
<text x="451.6" y="305" font-size="9.3" textLength="52.8" lengthAdjust="spacingAndGlyphs">, antibiotics</text>
<rect x="0.5" y="0.5" width="519" height="437" fill="none" stroke="#000" stroke-width="1.1"/>
</svg></body></html>
